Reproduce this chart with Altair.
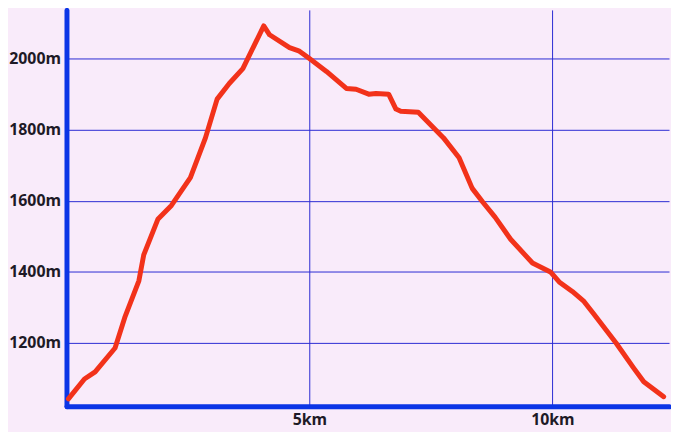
import altair as alt
import pandas as pd

dist_km = [0.04, 0.37, 0.59, 1.0, 1.2, 1.49, 1.59, 1.88, 2.16, 2.55, 2.86, 3.10, 3.35, 3.63,
           4.06, 4.18, 4.59, 4.78, 5.0, 5.35, 5.76, 5.96, 6.22, 6.37, 6.63, 6.78, 6.88, 7.24,
           7.76, 8.08, 8.35, 8.57, 8.82, 9.14, 9.59, 9.96, 10.14, 10.41, 10.65, 10.86, 11.31,
           11.67, 11.88, 12.29]
elev_m = [1043, 1099, 1119, 1186, 1272, 1375, 1448, 1548, 1587, 1665, 1777, 1886, 1930, 1972,
          2092, 2067, 2031, 2022, 2000, 1964, 1916, 1914, 1900, 1902, 1900, 1858, 1852, 1849,
          1777, 1721, 1635, 1596, 1554, 1492, 1425, 1400, 1372, 1345, 1317, 1280, 1200,
          1130, 1091, 1049]
x_ticks = [5, 10]
y_ticks = [1200, 1400, 1600, 1800, 2000]

df = pd.DataFrame({"km": dist_km, "m": elev_m})

font = "Open Sans"
axis_common = dict(
    title=None, grid=True, gridColor="#2a2ad2", gridWidth=1,
    domainColor="#0b35e6", domainWidth=5, domainCap="round",
    ticks=False, tickSize=0,
    labelFont=font, labelFontSize=16, labelFontWeight="bold",
    labelColor="#1e1a26",
)
chart = alt.Chart(df).mark_line(color="#f2321a", strokeWidth=5, strokeJoin="round", strokeCap="round").encode(
    x=alt.X("km:Q", scale=alt.Scale(domain=[0, 12.4], nice=False, zero=False),
            axis=alt.Axis(values=x_ticks, labelExpr="datum.value + 'km'", labelPadding=5,
                          **axis_common)),
    y=alt.Y("m:Q", scale=alt.Scale(domain=[1022, 2137], nice=False, zero=False),
            axis=alt.Axis(values=y_ticks, labelExpr="datum.value + 'm'", labelPadding=6,
                          **axis_common)),
).properties(
    width=608, height=400,
    autosize=alt.AutoSizeParams(type="none"),
    padding={"left": 59, "top": 0, "right": 2, "bottom": 24},
    background="#f9ebfa",
).configure_view(stroke=None, fill="#f9ebfa")

chart.save("out.html", embed_options={"renderer": "svg", "actions": False})
